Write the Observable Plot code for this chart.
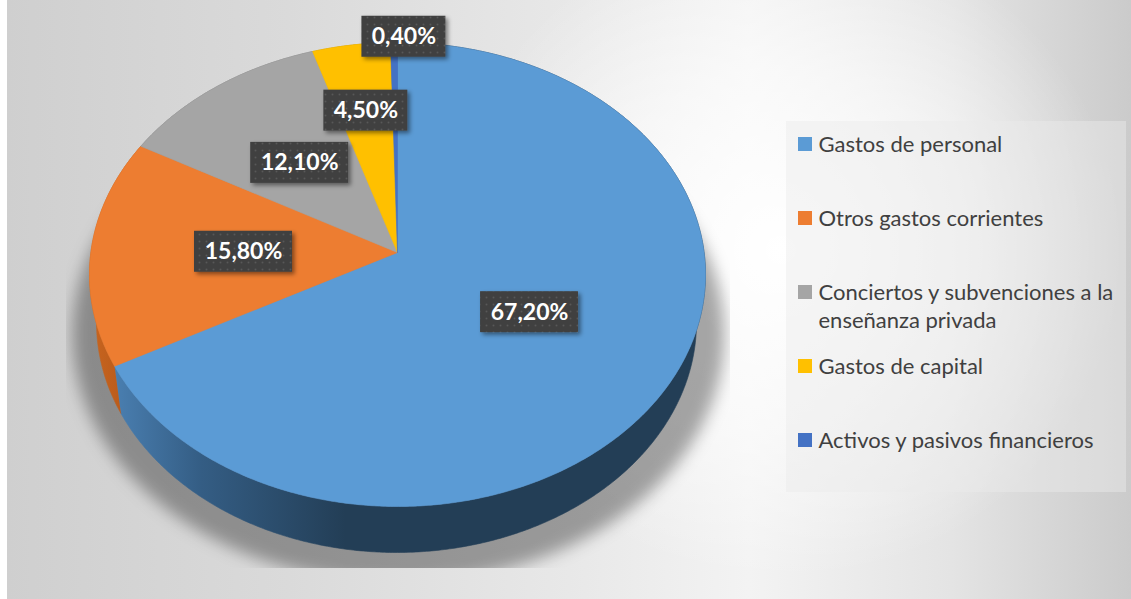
<!DOCTYPE html>
<html><head><meta charset="utf-8">
<script src="https://cdn.jsdelivr.net/npm/d3@7"></script>
<script src="https://cdn.jsdelivr.net/npm/@observablehq/plot@0.6"></script>
<style>
html,body{margin:0;padding:0;background:#fff;}
#wrap{position:absolute;left:0;top:0;width:1131px;height:599px;overflow:hidden;}
#bg{position:absolute;left:7px;top:0;width:1124px;height:599px;
background:
 radial-gradient(ellipse 340px 330px at 775px 250px, rgba(255,255,255,1) 0%, rgba(255,255,255,0.55) 55%, rgba(255,255,255,0) 100%),
 linear-gradient(90deg, #cfcfcf 0%, #dadada 25%, #e8e8e8 50%, #f3f3f3 66%, #e4e4e4 84%, #cbcbcb 100%);}
#chart{position:absolute;left:0;top:0;}
</style></head><body>
<div id="wrap"><div id="bg"></div><div id="chart"></div></div>
<script>
// ---- data ----
const categories = ["Gastos de personal","Otros gastos corrientes","Conciertos y subvenciones a la enseñanza privada","Gastos de capital","Activos y pasivos financieros"];
const values = [67.2, 15.8, 12.1, 4.5, 0.4];

// ---- styles ----
const palette = ["#5b9bd5","#ed7d31","#a5a5a5","#ffc000","#4472c4"];
const sidePalette = ["url(#sideBlue)","url(#sideOrange)","#7c7c7c","#bf9000","#2f5597"];
const SHADOW = "#010101";

const W = 1131, H = 599;
const T = {cx:397, cy:274, rx:308, ry:232};   // top face ellipse
const B = {cx:396, cy:322, rx:300, ry:230};   // bottom rim ellipse
const apexY = 252;
const p0y = (apexY - T.cy) / T.ry;

function rimPhi(thetaDeg){
  const th = thetaDeg * Math.PI / 180;
  const dx = Math.sin(th), dy = -Math.cos(th);
  const b = p0y * dy, c = p0y*p0y - 1;
  const t = -b + Math.sqrt(b*b - c);
  const ux = t*dx, uy = p0y + t*dy;
  let phi = Math.atan2(ux, -uy);
  if (phi < 0 || (thetaDeg > 180 && phi <= 0)) phi += 2*Math.PI;
  return phi;
}
const rimPt = (E, phi) => ({x: E.cx + E.rx*Math.sin(phi), y: E.cy - E.ry*Math.cos(phi)});
function arcPts(E, a, b){
  const n = Math.max(2, Math.ceil(Math.abs(b-a) / (Math.PI/360)));
  return d3.range(n+1).map(i => rimPt(E, a + (b-a)*i/n));
}

const total = d3.sum(values);
let acc = 0;
const slices = values.map((v,i) => {
  const s = acc/total*360; acc += v; const e = acc/total*360;
  return {i, v, s, e, ps: rimPhi(s), pe: rimPhi(e)};
});

const topPolys = slices.map(sl => [{x:T.cx, y:apexY}, ...arcPts(T, sl.ps, sl.pe), {x:T.cx, y:apexY}]);
const sidePolys = slices.map(sl => [...arcPts(T, sl.ps, sl.pe), ...arcPts(B, sl.pe, sl.ps)]);
const shadowPoly = arcPts({cx:398, cy:334, rx:326, ry:248}, 0, 2*Math.PI);

// data labels
const fmt = v => v.toFixed(2).replace(".", ",") + "%";
const labelData = slices.map(sl => {
  const mid = (sl.s + sl.e)/2 * Math.PI/180;
  const t = sl.v < 1 ? 0.93 : sl.v < 5 ? 0.62 : 0.5;
  const ux = t*Math.sin(mid), uy = p0y - t*Math.cos(mid);
  const text = fmt(sl.v);
  const x = T.cx + T.rx*ux + (sl.v < 1 ? 10 : 0);
  const y = T.cy + T.ry*uy;
  const w = 14*text.length + 14, h = 41;
  return {x, y, text, x1:x-w/2, x2:x+w/2, y1:y-h/2, y2:y+h/2};
});

// legend
function wrap(s, max){
  const words = s.split(" "); const lines = []; let cur = "";
  for (const w of words){
    if (cur && (cur + " " + w).length > max){ lines.push(cur); cur = w; }
    else cur = cur ? cur + " " + w : w;
  }
  if (cur) lines.push(cur);
  return lines;
}
const legY0 = 144, legStep = 74, lineGap = 28;
const legendItems = categories.map((c,i) => ({c, i, y: legY0 + i*legStep}));
const legendLines = legendItems.flatMap(d => wrap(d.c, 30).map((t,k) => ({t, y: d.y + k*lineGap})));

const marks = [
  Plot.line(shadowPoly, {x:"x", y:"y", fill:SHADOW, fillOpacity:0.34, stroke:"none"}),
  ...sidePolys.map((pts,i) => Plot.line(pts, {x:"x", y:"y", fill: sidePalette[i], stroke: sidePalette[i], strokeWidth:0.6})),
  ...topPolys.map((pts,i) => Plot.line(pts, {x:"x", y:"y", fill: palette[i], stroke: palette[i], strokeWidth:0.6})),
  Plot.rect(labelData, {x1:"x1", x2:"x2", y1:"y1", y2:"y2", fill:"url(#dots)"}),
  Plot.text(labelData, {x:"x", y:"y", text:"text", fill:"white", fontSize:23, fontWeight:"bold", fontFamily:"Lato", textAnchor:"middle", lineAnchor:"middle"}),
  Plot.rect([0], {x1:()=>786, x2:()=>1126, y1:()=>121, y2:()=>492, fill:"#ebebeb", fillOpacity:0.45}),
  Plot.rect(legendItems, {x1:()=>798, x2:()=>812, y1:d=>d.y-7, y2:d=>d.y+7, fill:d=>palette[d.i]}),
  Plot.text(legendLines, {x:()=>818, y:"y", text:"t", fill:"#404040", fontSize:22, fontFamily:"Lato", textAnchor:"start", lineAnchor:"middle"})
];

const svg = Plot.plot({
  width: W, height: H, margin: 0,
  x: {domain:[0, W], axis:null},
  y: {domain:[H, 0], axis:null},
  color: {type:"identity"},
  style: {background:"none", overflow:"visible"},
  marks
});

d3.select(svg).insert("defs", ":first-child").html(`
  <filter id="shadowBlur" x="-20%" y="-20%" width="140%" height="140%"><feGaussianBlur stdDeviation="8"/></filter>
  <filter id="boxShadow" x="-20%" y="-30%" width="150%" height="170%"><feDropShadow dx="2.5" dy="2.5" stdDeviation="2" flood-color="#000" flood-opacity="0.45"/></filter>
  <pattern id="dots" width="7" height="7" patternUnits="userSpaceOnUse"><rect width="7" height="7" fill="#404040"/><circle cx="3.5" cy="3.5" r="0.9" fill="#585858"/></pattern>
  <linearGradient id="sideBlue" gradientUnits="userSpaceOnUse" x1="105" y1="0" x2="345" y2="0">
    <stop offset="0" stop-color="#4c82b5"/><stop offset="0.4" stop-color="#345d84"/><stop offset="1" stop-color="#233e56"/></linearGradient>
  <linearGradient id="sideOrange" gradientUnits="userSpaceOnUse" x1="90" y1="0" x2="125" y2="0">
    <stop offset="0" stop-color="#c8651f"/><stop offset="1" stop-color="#b85a1b"/></linearGradient>
  <clipPath id="shadowClip" clipPathUnits="userSpaceOnUse"><rect x="66" y="0" width="664" height="568"/></clipPath>
`);
d3.select(svg).selectAll(`g[fill="${SHADOW}"]`).attr("filter","url(#shadowBlur)");
d3.select(svg).selectAll(`g[fill="${SHADOW}"]`).each(function(){
  const w = document.createElementNS("http://www.w3.org/2000/svg","g");
  w.setAttribute("clip-path","url(#shadowClip)");
  this.parentNode.insertBefore(w, this); w.appendChild(this);
});
d3.select(svg).selectAll('g[fill="url(#dots)"]').attr("filter","url(#boxShadow)");
document.getElementById("chart").appendChild(svg);
</script>
</body></html>
